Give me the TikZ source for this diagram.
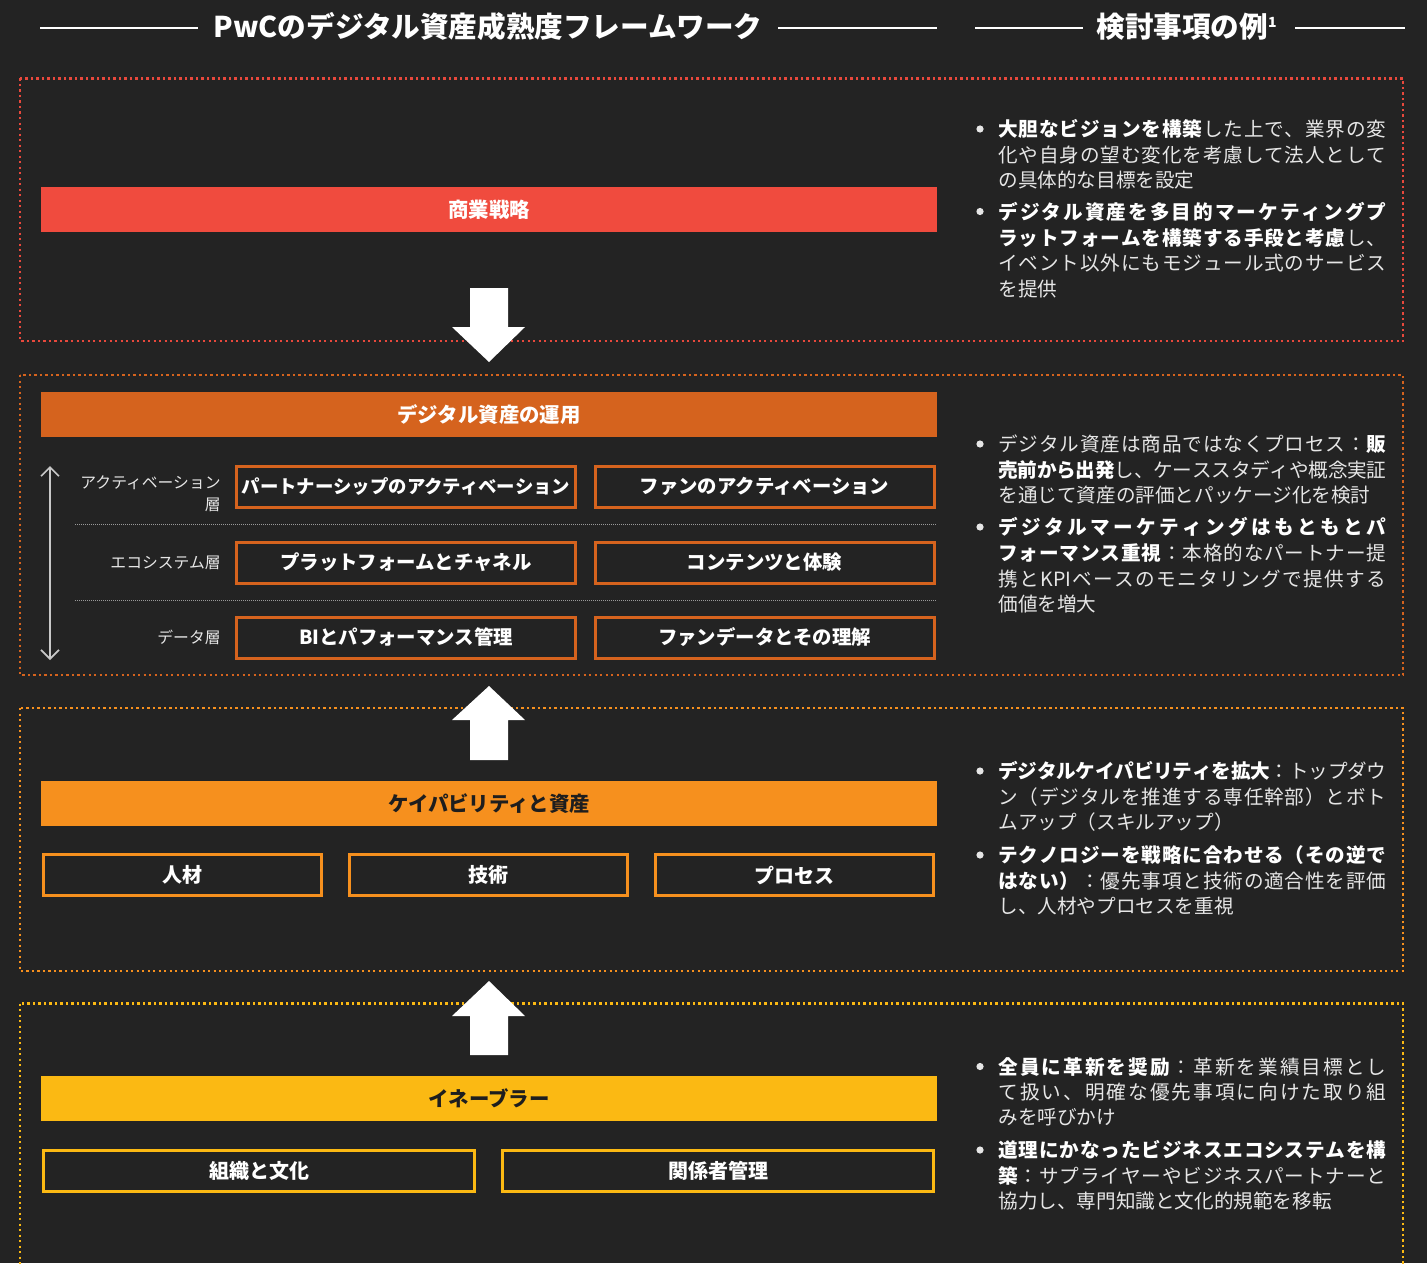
\documentclass[tikz,border=0pt]{standalone}
\usepackage{fontspec}
\setmainfont{Noto Sans CJK JP}
\usetikzlibrary{arrows.meta}
\ExplSyntaxOn
\cs_new:Npn \jsp #1 { \tl_map_inline:nn {#1} { ##1 \hskip 0pt plus 1fil minus 0.5pt \relax } }
\ExplSyntaxOff
\definecolor{bgc}{HTML}{232323}
\definecolor{cred}{HTML}{F04B3E}
\definecolor{cdred}{HTML}{E8483C}
\definecolor{cdor}{HTML}{D5631E}
\definecolor{cor}{HTML}{F6901E}
\definecolor{cyel}{HTML}{FBB913}
\definecolor{txt}{HTML}{E6E6E6}
\definecolor{lgray}{HTML}{C8C8C8}
\definecolor{dark}{HTML}{1E1E1E}
\newcommand\bt[1]{\textcolor{white}{\bfseries #1}}
\newcommand\rl[3]{\node[rtext] (#1) at (998,#2+7.5) {#3};}
\newcommand\rlj[3]{\node[rtext] (#1) at (998,#2+7.5) {\hbox to 194pt{#3}};}
\newcommand\bu[2]{\node[bulc] (#1) at (980,#2) {};}
\begin{document}
\begin{tikzpicture}[x=0.5pt,y=-0.5pt,
  dotbox/.style={line width=1.25pt, dash pattern=on 1.2pt off 1.55pt},
  bar/.style={minimum width=448pt, minimum height=22.5pt, inner sep=0, font=\bfseries\fontsize{10.2pt}{12pt}\selectfont},
  rowbox/.style={draw=cdor, line width=1.5pt, minimum width=169.5pt, minimum height=20.5pt, inner sep=0, text=white, font=\bfseries\fontsize{9.7pt}{11pt}\selectfont},
  subbox/.style={draw=#1, line width=1.5pt, minimum height=20.5pt, inner sep=0, text=white, font=\bfseries\fontsize{10pt}{12pt}\selectfont},
  rtext/.style={anchor=base west, inner sep=0, text=txt, font=\fontsize{9.8pt}{12pt}\selectfont},
  bulc/.style={circle, fill=txt, minimum size=3.6pt, inner sep=0},
  lab/.style={anchor=east, inner sep=0, text=txt, font=\fontsize{7.9pt}{9pt}\selectfont},
  title/.style={inner sep=0, text=white, font=\bfseries\fontsize{14.3pt}{16pt}\selectfont},
  hline/.style={draw=white, line width=1.1pt},
  sep/.style={draw=gray!80, line width=0.5pt, dash pattern=on 0.5pt off 0.5pt},
  blockarrow/.style={fill=white, draw=none}
]
\useasboundingbox (0,0) rectangle (1427,1263);
\fill[bgc] (0,0) rectangle (1427,1263);

% headers
\node[title] (t1) at (488,27) {PwCのデジタル資産成熟度フレームワーク};
\node[title] (t2) at (1187,27) {検討事項の例\textsuperscript{\fontsize{7pt}{8pt}\selectfont 1}};
\draw[hline] (40,28) -- (198,28);
\draw[hline] (778,28) -- (937,28);
\draw[hline] (975,28) -- (1083,28);
\draw[hline] (1295,28) -- (1405,28);

% dotted frames
\draw[dotbox, draw=cdred] (20,78.5) rectangle (1403,341);
\draw[dotbox, draw=cdor] (20,375) rectangle (1403,675);
\draw[dotbox, draw=cor] (20,708) rectangle (1403,971);
\begin{scope}
\clip (0,0) rectangle (1427,1263);
\draw[dotbox, draw=cyel] (20,1003.5) rectangle (1403,1300);
\end{scope}

% bars
\node[bar, fill=cred, text=white] (b1) at (489,209.5) {商業戦略};
\node[bar, fill=cdor, text=white] (b2) at (489,414.5) {デジタル資産の運用};
\node[bar, fill=cor, text=dark] (b3) at (489,803.5) {ケイパビリティと資産};
\node[bar, fill=cyel, text=dark] (b4) at (489,1098.5) {イネーブラー};

% block arrows
\fill[blockarrow] (470,288) -- (508,288) -- (508,327) -- (525,327) -- (489,362) -- (452,327) -- (470,327) -- cycle;
\fill[blockarrow] (470,760) -- (508,760) -- (508,720) -- (525,720) -- (489,686) -- (452,720) -- (470,720) -- cycle;
\fill[blockarrow] (470,1055) -- (508,1055) -- (508,1016) -- (525,1016) -- (489,981) -- (452,1016) -- (470,1016) -- cycle;

% layers
\coordinate (vtop) at (50,466);
\coordinate (vbot) at (50,660);
\draw[lgray, line width=0.8pt, {Straight Barb[length=4.5pt,width=9pt]}-{Straight Barb[length=4.5pt,width=9pt]}] (vtop) -- (vbot);
\node[lab] (la1) at (221,483) {アクティベーション};
\node[lab] (la2) at (221,505) {層};
\node[lab] (la3) at (221,562.5) {エコシステム層};
\node[lab] (la4) at (221,637.5) {データ層};
\coordinate (s1a) at (75,524.5); \coordinate (s1b) at (937,524.5);
\coordinate (s2a) at (75,600); \coordinate (s2b) at (937,600);
\draw[sep] (s1a) -- (s1b);
\draw[sep] (s2a) -- (s2b);

\node[rowbox, font=\bfseries\fontsize{9.2pt}{11pt}\selectfont] (r11) at (406,486.5) {パートナーシップのアクティベーション};
\node[rowbox] (r12) at (764.5,486.5) {ファンのアクティベーション};
\node[rowbox] (r21) at (406,562.5) {プラットフォームとチャネル};
\node[rowbox] (r22) at (764.5,562.5) {コンテンツと体験};
\node[rowbox] (r31) at (406,637.5) {BIとパフォーマンス管理};
\node[rowbox] (r32) at (764.5,637.5) {ファンデータとその理解};

% capability sub boxes
\node[subbox=cor, minimum width=139pt] (c1) at (182.5,875) {人材};
\node[subbox=cor, minimum width=139pt] (c2) at (488.5,875) {技術};
\node[subbox=cor, minimum width=139pt] (c3) at (794.5,875) {プロセス};

% enabler sub boxes
\node[subbox=cyel, minimum width=215.5pt] (e1) at (259,1171) {組織と文化};
\node[subbox=cyel, minimum width=215.5pt] (e2) at (718,1171) {関係者管理};

% right texts: box 1
\bu{u1}{129}
\rlj{p1a}{129}{\bt{\jsp{大胆なビジョンを構築}}\jsp{した上で、業界の変}\unskip}
\rlj{p1b}{154.5}{\jsp{化や自身の望む変化を考慮して法人として}\unskip}
\rl{p1c}{180}{の具体的な目標を設定}
\bu{u2}{211.5}
\rlj{p2a}{211.5}{\bt{\jsp{デジタル資産を多目的マーケティングプ}\unskip}}
\rlj{p2b}{237.5}{\bt{\jsp{ラットフォームを構築する手段と考慮}}\jsp{し、}\unskip}
\rlj{p2c}{263}{\jsp{イベント以外にもモジュール式のサービス}\unskip}
\rl{p2d}{289}{を提供}

% box 2
\bu{u3}{444}
\rlj{p3a}{444}{\jsp{デジタル資産は商品ではなくプロセス：}\bt{販}}
\rlj{p3b}{469.5}{\bt{\jsp{売前から出発}}\jsp{し、ケーススタディや概念実証}\unskip}
\rl{p3c}{495}{を通じて資産の評価とパッケージ化を検討}
\bu{u4}{527}
\rlj{p4a}{527}{\bt{\jsp{デジタルマーケティングはもともとパ}\unskip}}
\rlj{p4b}{553}{\bt{\jsp{フォーマンス重視}}\jsp{：本格的なパートナー提}\unskip}
\rlj{p4c}{578.5}{\jsp{携と{KPI}ベースのモニタリングで提供する}\unskip}
\rl{p4d}{604}{価値を増大}

% box 3
\bu{u5}{771}
\rlj{p5a}{771}{\bt{\jsp{デジタルケイパビリティを拡大}}\jsp{：トップダウ}\unskip}
\rlj{p5b}{796.5}{\jsp{ン（デジタルを推進する専任幹部）とボト}\unskip}
\rl{p5c}{822}{ムアップ（スキルアップ）}
\bu{u6}{855}
\rlj{p6a}{855}{\bt{\jsp{テクノロジーを戦略に合わせる（その逆で}\unskip}}
\rlj{p6b}{880.5}{\bt{\jsp{はない）}}\jsp{：優先事項と技術の適合性を評価}\unskip}
\rl{p6c}{906}{し、人材やプロセスを重視}

% box 4
\bu{u7}{1066.5}
\rlj{p7a}{1066.5}{\bt{\jsp{全員に革新を奨励}}\jsp{：革新を業績目標とし}\unskip}
\rlj{p7b}{1092}{\jsp{て扱い、明確な優先事項に向けた取り組}\unskip}
\rl{p7c}{1117}{みを呼びかけ}
\bu{u8}{1150}
\rlj{p8a}{1150}{\bt{\jsp{道理にかなったビジネスエコシステムを構}\unskip}}
\rlj{p8b}{1175.5}{\bt{\jsp{築}}\jsp{：サプライヤーやビジネスパートナーと}\unskip}
\rl{p8c}{1201}{協力し、専門知識と文化的規範を移転}
\end{tikzpicture}
\end{document}
